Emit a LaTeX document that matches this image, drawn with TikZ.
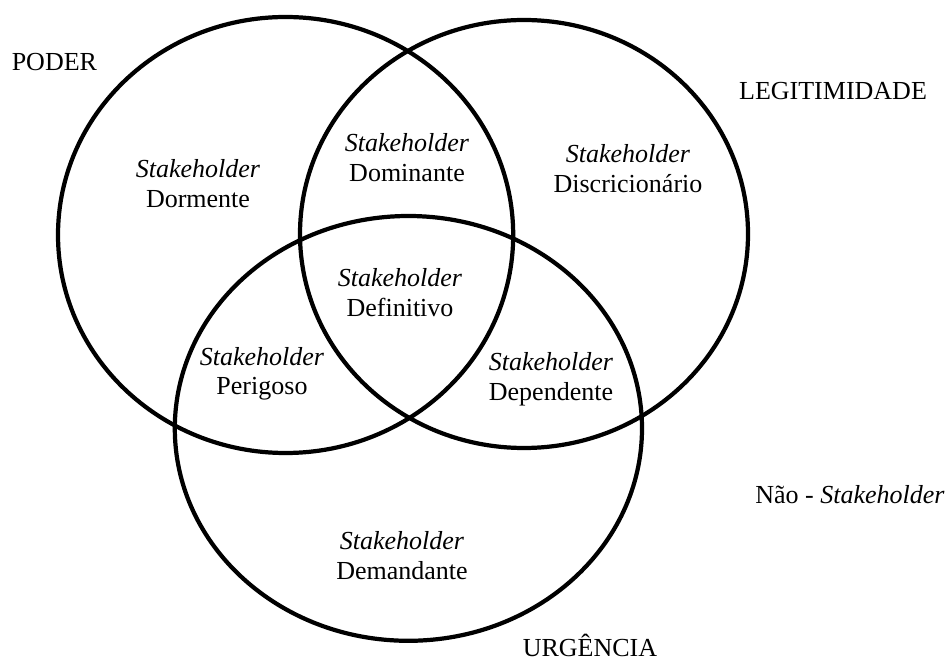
\documentclass[tikz,border=0pt]{standalone}
\usepackage{fontspec}
\setmainfont{Liberation Serif}
\begin{document}
\begin{tikzpicture}[line join=round, line cap=round, line width=3pt,
	font=\fontsize{18.5pt}{21.3pt}\selectfont,
	regiao/.style={align=center},
	atributo/.style={anchor=base, inner sep=0pt}]
	\useasboundingbox (0,0) rectangle (23.675,-16.525);
	% poder, legitimidade, urgencia
	\draw (7.14,-5.875) ellipse [x radius=5.69, y radius=5.45];
	\draw (13.1,-5.85) ellipse [x radius=5.6, y radius=5.35];
	\draw (10.21,-10.71) ellipse [x radius=5.84, y radius=5.31];
	\node[atributo] (poder) at (1.36,-1.775) {PODER};
	\node[atributo] (legit) at (20.825,-2.5) {LEGITIMIDADE};
	\node[atributo] (urg) at (14.75,-16.42) {URGÊNCIA};
	\node[atributo] (nao) at (21.25,-12.575) {Não - \textit{Stakeholder}};
	\node[regiao] (dormente) at (4.95,-4.6) {\textit{Stakeholder}\\Dormente};
	\node[regiao] (dominante) at (10.175,-3.95) {\textit{Stakeholder}\\Dominante};
	\node[regiao] (discric) at (15.7,-4.225) {\textit{Stakeholder}\\Discricionário};
	\node[regiao] (definitivo) at (10,-7.325) {\textit{Stakeholder}\\Definitivo};
	\node[regiao] (perigoso) at (6.55,-9.345) {\textit{Stakeholder}\\Perigoso};
	\node[regiao] (dependente) at (13.775,-9.47) {\textit{Stakeholder}\\Dependente};
	\node[regiao] (demandante) at (10.05,-13.9) {\textit{Stakeholder}\\Demandante};
\end{tikzpicture}
\end{document}
